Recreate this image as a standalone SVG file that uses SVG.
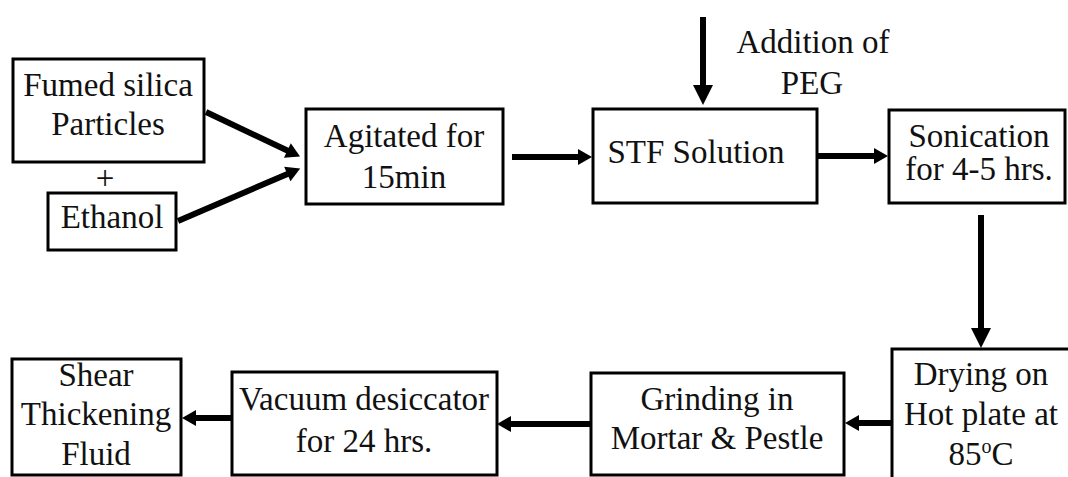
<svg xmlns="http://www.w3.org/2000/svg" width="1068" height="477" viewBox="0 0 1068 477">
<style>
.box{fill:#fff;stroke:#000;stroke-width:3}
.t{font-size:33px;fill:#111;text-anchor:middle}
.c{stroke:#000;stroke-width:6;fill:none}
.ch{marker-end:url(#ah)}
.cv{marker-end:url(#av)}
</style>
<defs>
<marker id="ah" markerUnits="userSpaceOnUse" markerWidth="16" markerHeight="18" refX="4" refY="8" orient="auto" overflow="visible">
<path d="M0,0 L14,8 L0,16 z" fill="#000"/>
</marker>
<marker id="av" markerUnits="userSpaceOnUse" markerWidth="22" markerHeight="22" refX="10" refY="10" orient="auto" overflow="visible">
<path d="M0,0 L20,10 L0,20 z" fill="#000"/>
</marker>
</defs>
<rect width="1068" height="477" fill="#fff"/>
<g id="connectors">
<line class="c ch" x1="206" y1="112" x2="291" y2="152.3"/>
<line class="c ch" x1="178" y1="221" x2="291" y2="172.4"/>
<line class="c ch" x1="512" y1="157" x2="582" y2="157"/>
<line class="c ch" x1="818" y1="156" x2="878" y2="156"/>
<line class="c cv" x1="703" y1="17" x2="703" y2="95"/>
<line class="c cv" x1="981" y1="215" x2="981" y2="338"/>
<line class="c ch" x1="892" y1="423" x2="855" y2="423"/>
<line class="c ch" x1="591" y1="424" x2="507" y2="424"/>
<line class="c ch" x1="232" y1="418" x2="192" y2="418"/>
</g>
<g font-family="Liberation Serif, DejaVu Serif, serif">
<g id="fumed">
<rect class="box" x="13" y="59" width="191" height="103"/>
<text class="t" x="108" y="96">Fumed silica</text>
<text class="t" x="108" y="135">Particles</text>
</g>
<g id="plus">
<text class="t" x="105" y="189">+</text>
</g>
<g id="ethanol">
<rect class="box" x="48" y="193" width="128" height="57"/>
<text class="t" x="112" y="228">Ethanol</text>
</g>
<g id="agitated">
<rect class="box" x="306" y="109" width="197" height="95"/>
<text class="t" x="404" y="147">Agitated for</text>
<text class="t" x="404" y="188">15min</text>
</g>
<g id="stf">
<rect class="box" x="593" y="109" width="224" height="94"/>
<text class="t" x="696" y="163">STF Solution</text>
</g>
<g id="peg">
<text class="t" x="813" y="53">Addition of</text>
<text class="t" x="812" y="94">PEG</text>
</g>
<g id="sonication">
<rect class="box" x="889" y="110" width="176" height="93"/>
<text class="t" x="979" y="147">Sonication</text>
<text class="t" x="979" y="180">for 4-5 hrs.</text>
</g>
<g id="drying">
<rect class="box" x="892" y="349" width="190" height="140"/>
<text class="t" x="981" y="385">Drying on</text>
<text class="t" x="981" y="425">Hot plate at</text>
<text class="t" x="981" y="465">85<tspan font-size="20" dy="-12">o</tspan><tspan dy="12">C</tspan></text>
</g>
<g id="grinding">
<rect class="box" x="591" y="373" width="253" height="102"/>
<text class="t" x="717" y="410">Grinding in</text>
<text class="t" x="717" y="449">Mortar &amp; Pestle</text>
</g>
<g id="vacuum">
<rect class="box" x="232" y="372" width="265" height="103"/>
<text class="t" x="364" y="410">Vacuum desiccator</text>
<text class="t" x="364" y="452">for 24 hrs.</text>
</g>
<g id="shear">
<rect class="box" x="12" y="359" width="169" height="116"/>
<text class="t" x="96" y="386">Shear</text>
<text class="t" x="96" y="425">Thickening</text>
<text class="t" x="96" y="465">Fluid</text>
</g>
</g>
</svg>
